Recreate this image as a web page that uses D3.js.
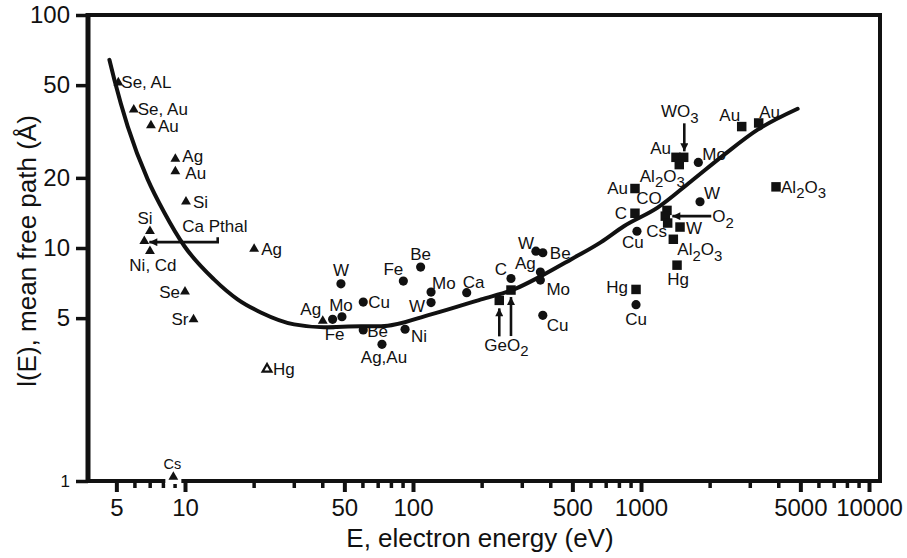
<!DOCTYPE html>
<html>
<head>
<meta charset="utf-8">
<script src="https://cdn.jsdelivr.net/npm/d3@7"></script>
<style>
  html, body { margin: 0; padding: 0; background: #fff; }
  svg { display: block; font-family: "Liberation Sans", Arial, Helvetica, sans-serif; }
  text { fill: #111; }
</style>
</head>
<body>
<svg id="chart" width="907" height="558"></svg>
<script>
// ---------- DATA ----------
// Universal curve (E in eV, mean free path in Å)
const curveE = [4.66, 4.90, 5.61, 6.86, 8.11, 9.93, 13.4, 17.0, 21.5, 30.1, 40.7, 59.2, 72.4, 120, 199, 277, 364, 493, 668, 841, 1183, 1655, 2311, 3250, 4864];
const curveL = [64.2, 52.7, 33.2, 19.7, 14.2, 10.2, 7.33, 6.02, 5.29, 4.70, 4.57, 4.61, 4.61, 5.19, 6.02, 6.64, 7.57, 8.93, 10.6, 12.4, 14.9, 19.3, 25.1, 32.2, 39.6];

// Filled triangles
const triangles = [
  { id: "t1", name: "Se, AL", E: 5.10, L: 51.3 },
  { id: "t2", name: "Se, Au", E: 5.96, L: 39.2 },
  { id: "t3", name: "Au", E: 7.09, L: 33.6 },
  { id: "t4", name: "Ag", E: 9.07, L: 24.1 },
  { id: "t5", name: "Au", E: 9.07, L: 21.3 },
  { id: "t6", name: "Si", E: 10.1, L: 15.8 },
  { id: "t7", name: "Si", E: 7.02, L: 11.8 },
  { id: "t8", name: "Ca Pthal", E: 6.63, L: 10.7 },
  { id: "t9", name: "Ni, Cd", E: 7.02, L: 9.69 },
  { id: "t10", name: "Ag", E: 20.1, L: 9.92 },
  { id: "t11", name: "Se", E: 10.0, L: 6.49 },
  { id: "t12", name: "Sr", E: 10.9, L: 4.94 },
  { id: "t13", name: "Cs", E: 8.89, L: 1.04 },
  { id: "t14", name: "Ag", E: 40.2, L: 4.86 }
];
// Open triangles
const openTriangles = [
  { id: "o1", name: "Hg", E: 22.9, L: 3.02 }
];
// Filled circles
const circles = [
  { id: "c1", name: "Fe", E: 44.4, L: 4.94 },
  { id: "c2", name: "Mo", E: 48.8, L: 5.07 },
  { id: "c3", name: "W", E: 48.3, L: 7.02 },
  { id: "c4", name: "Cu", E: 60.5, L: 5.86 },
  { id: "c5", name: "Be", E: 60.5, L: 4.45 },
  { id: "c6", name: "Ag,Au", E: 73.1, L: 3.86 },
  { id: "c7", name: "Ni", E: 92.3, L: 4.48 },
  { id: "c8", name: "Fe", E: 90.7, L: 7.21 },
  { id: "c9", name: "Be", E: 108, L: 8.28 },
  { id: "c10", name: "Mo", E: 120, L: 6.47 },
  { id: "c11", name: "W", E: 120, L: 5.83 },
  { id: "c12", name: "Ca", E: 172, L: 6.43 },
  { id: "c13", name: "C", E: 269, L: 7.40 },
  { id: "c14", name: "Ag", E: 362, L: 7.88 },
  { id: "c15", name: "Mo", E: 362, L: 7.28 },
  { id: "c16", name: "W", E: 346, L: 9.69 },
  { id: "c17", name: "Be", E: 371, L: 9.54 },
  { id: "c18", name: "Cu", E: 371, L: 5.14 },
  { id: "c19", name: "Mo", E: 1784, L: 23.3 },
  { id: "c20", name: "W", E: 1815, L: 15.8 },
  { id: "c21", name: "Cu", E: 960, L: 11.8 },
  { id: "c22", name: "Cu", E: 951, L: 5.71 }
];
// Filled squares
const squares = [
  { id: "s1", name: "GeO2", E: 239, L: 5.96 },
  { id: "s2", name: "GeO2", E: 269, L: 6.60 },
  { id: "s3", name: "Au", E: 1424, L: 24.5 },
  { id: "s4", name: "WO3", E: 1539, L: 24.5 },
  { id: "s5", name: "Al2O3", E: 1472, L: 22.8 },
  { id: "s6", name: "Au", E: 2765, L: 33.2 },
  { id: "s7", name: "Au", E: 3282, L: 34.4 },
  { id: "s8", name: "Au", E: 941, L: 18.0 },
  { id: "s9", name: "Al2O3", E: 3910, L: 18.3 },
  { id: "s10", name: "C", E: 941, L: 14.1 },
  { id: "s11", name: "CO", E: 1300, L: 14.5 },
  { id: "s12", name: "O2", E: 1278, L: 13.7 },
  { id: "s13", name: "Cs", E: 1309, L: 12.8 },
  { id: "s14", name: "W", E: 1483, L: 12.3 },
  { id: "s15", name: "Al2O3", E: 1386, L: 10.9 },
  { id: "s16", name: "Hg", E: 1439, L: 8.44 },
  { id: "s17", name: "Hg", E: 951, L: 6.64 }
];

// Axis ticks
const yTicks = [1, 5, 10, 20, 50, 100];
const xMajorTicks = [5, 10, 50, 100, 500, 1000, 5000, 10000];
const xMinorTicks = [6, 7, 8, 9, 20, 30, 40, 60, 70, 80, 90, 200, 300, 400, 600, 700, 800, 900, 2000, 3000, 4000, 6000, 7000, 8000, 9000];

const xTitle = "E, electron energy (eV)";
const yTitle = "l(E), mean free path (Å)";

// ---------- LAYOUT (label offsets in px, relative to marker) ----------
const labelLayout = {
  t1: [3, 0, "start"], t2: [4, -1, "start"], t3: [7, 1, "start"], t4: [7, -2.5, "start"],
  t5: [10, 2, "start"], t6: [7, 0, "start"], t7: [-5, -13, "middle"], t8: [38, -15, "start"],
  t9: [3, 14, "middle"], t10: [7, 0, "start"], t11: [-5, 0, "end"], t12: [-5, 0, "end"],
  t13: [-1, -13, "middle", 14.5], t14: [-12, -12, "middle"], o1: [6, 0, "start"],
  c1: [2, 15, "middle"], c2: [-1, -12, "middle"], c3: [0, -14, "middle"], c4: [5, 0, "start"],
  c5: [4, 1, "start"], c6: [2, 13, "middle"], c7: [6, 7, "start"], c8: [-10, -12, "middle"],
  c9: [0, -13, "middle"], c10: [1, -9.5, "start"], c11: [-6, 3, "end"], c12: [7, -11, "middle"],
  c13: [-10, -9, "middle"], c14: [-15, -9, "middle"], c15: [6, 9, "start"], c16: [-10, -8, "middle"],
  c17: [7, 0, "start"], c18: [4, 10, "start"], c19: [4, -8, "start"], c20: [4, -9, "start"],
  c21: [-4, 11, "middle"], c22: [0, 14, "middle"],
  s2: [-4.5, 55, "middle"], s3: [-5, -9, "end"], s4: [-4, -46, "middle"], s5: [-17, 11, "middle"],
  s6: [-12, -12, "middle"], s7: [11, -11, "middle"], s8: [-7, 0, "end"], s9: [5, 0, "start"],
  s10: [-8, 0, "end"], s11: [-18, -12, "middle"], s12: [47, 0, "start"], s13: [-11, 8, "middle"],
  s14: [6, 0.6, "start"], s15: [4, 10, "start"], s16: [1, 14, "middle"], s17: [-8, -2, "end"]
};
// Arrows: polyline offsets (px) relative to a marker, arrowhead at last point
const arrowLayout = {
  t8: [[73.4, -4], [73.4, 1], [5, 1]],
  s1: [[0, 36], [0, 8]],
  s2: [[0, 46], [0, 7]],
  s4: [[0.6, -34], [0.6, -6]],
  s12: [[46, 0], [7, 0]]
};

// ---------- CHART ----------
const svg = d3.select("#chart");
const pLeft = 88, pRight = 880, pTop = 15, pBottom = 481;
const x = d3.scaleLog().domain([10, 10000]).range([185, 869]);
const y = d3.scaleLog().domain([1, 100]).range([pBottom, pTop]);
const labelSize = 17;

const defs = svg.append("defs");
defs.append("marker").attr("id", "arrow").attr("viewBox", "0 0 10 10")
  .attr("refX", 10).attr("refY", 5).attr("markerWidth", 10).attr("markerHeight", 8)
  .attr("markerUnits", "userSpaceOnUse").attr("orient", "auto")
  .append("path").attr("d", "M0,0 L10,5 L0,10 Z").attr("fill", "#111");

// Y axis ticks & labels
const yAxis = d3.axisLeft(y).tickValues(yTicks).tickSize(12).tickPadding(6).tickFormat(d3.format("d"));
const gy = svg.append("g").attr("transform", `translate(${pLeft},0)`).call(yAxis);
gy.select(".domain").remove();
gy.selectAll(".tick line").attr("stroke", "#111").attr("stroke-width", 3.5);
gy.selectAll(".tick text").attr("fill", "#111").style("font-size", d => d === 1 ? "17px" : "24px")
  .style("font-family", "'Liberation Sans', Arial, sans-serif");

// X axis: major + minor ticks
const xAxisMajor = d3.axisBottom(x).tickValues(xMajorTicks).tickSize(11).tickPadding(7).tickFormat(d3.format("d"));
const gx = svg.append("g").attr("transform", `translate(0,${pBottom})`).call(xAxisMajor);
gx.select(".domain").remove();
gx.selectAll(".tick line").attr("stroke", "#111").attr("stroke-width", 4);
gx.selectAll(".tick text").attr("fill", "#111").style("font-size", "24px")
  .style("font-family", "'Liberation Sans', Arial, sans-serif");
const xAxisMinor = d3.axisBottom(x).tickValues(xMinorTicks).tickSize(7).tickFormat("");
const gxm = svg.append("g").attr("transform", `translate(0,${pBottom})`).call(xAxisMinor);
gxm.select(".domain").remove();
gxm.selectAll(".tick line").attr("stroke", "#111").attr("stroke-width", 3.5);

// Frame
const frame = svg.append("g").attr("stroke", "#111").attr("fill", "none");
frame.append("line").attr("x1", pLeft - 2).attr("x2", pRight + 2).attr("y1", pTop).attr("y2", pTop).attr("stroke-width", 4);
frame.append("line").attr("x1", pRight).attr("x2", pRight).attr("y1", pTop).attr("y2", pBottom).attr("stroke-width", 4);
frame.append("line").attr("x1", pLeft - 2).attr("x2", pRight + 2).attr("y1", pBottom).attr("y2", pBottom).attr("stroke-width", 4);
frame.append("line").attr("x1", pLeft).attr("x2", pLeft).attr("y1", pTop - 2).attr("y2", pBottom + 2).attr("stroke-width", 5);

// Titles
svg.append("text").attr("x", 480).attr("y", 547).attr("text-anchor", "middle")
  .style("font-size", "26px").text(xTitle);
svg.append("text").attr("transform", "translate(36,251) rotate(-90)").attr("text-anchor", "middle")
  .style("font-size", "26px").text(yTitle);

// Curve
const line = d3.line().x(d => x(d[0])).y(d => y(d[1])).curve(d3.curveMonotoneX);
svg.append("path").datum(curveE.map((e, i) => [e, curveL[i]]))
  .attr("d", line).attr("fill", "none").attr("stroke", "#111").attr("stroke-width", 4).attr("stroke-linecap", "round");

// Markers
const gm = svg.append("g");
const triSym = d3.symbol(d3.symbolTriangle, 42);
const sqSym = d3.symbol(d3.symbolSquare, 90);
const ciSym = d3.symbol(d3.symbolCircle, 66);

// white gap where a marker sits on the x axis line
triangles.filter(d => y(d.L) > pBottom - 8).forEach(d => {
  gm.append("rect").attr("x", x(d.E) - 8).attr("y", pBottom - 3).attr("width", 16).attr("height", 6).attr("fill", "#fff");
});

gm.selectAll(".tri").data(triangles).join("path").attr("class", "tri")
  .attr("transform", d => `translate(${x(d.E)},${y(d.L)})`).attr("d", triSym).attr("fill", "#111");
gm.selectAll(".otri").data(openTriangles).join("path").attr("class", "otri")
  .attr("transform", d => `translate(${x(d.E)},${y(d.L)})`).attr("d", d3.symbol(d3.symbolTriangle, 34))
  .attr("fill", "#fff").attr("stroke", "#111").attr("stroke-width", 2.2);
gm.selectAll(".ci").data(circles).join("path").attr("class", "ci")
  .attr("transform", d => `translate(${x(d.E)},${y(d.L)})`).attr("d", ciSym).attr("fill", "#111");
gm.selectAll(".sq").data(squares).join("path").attr("class", "sq")
  .attr("transform", d => `translate(${x(d.E)},${y(d.L)})`).attr("d", sqSym).attr("fill", "#111");

// Labels
const gl = svg.append("g");
function addLabel(text, px, py, anchor, size) {
  const t = gl.append("text").attr("x", px).attr("y", py + size * 0.35)
    .attr("text-anchor", anchor).style("font-size", size + "px");
  const parts = text.match(/\d+|\D+/g);
  let shifted = false;
  const sh = size * 0.32;
  parts.forEach(p => {
    const ts = t.append("tspan").text(p);
    if (/^\d+$/.test(p)) { ts.attr("dy", sh).style("font-size", (size * 0.88) + "px"); shifted = true; }
    else if (shifted) { ts.attr("dy", -sh); shifted = false; }
  });
}
const allPts = [...triangles, ...openTriangles, ...circles, ...squares];
allPts.forEach(d => {
  const lay = labelLayout[d.id];
  if (!lay) return;
  addLabel(d.name, x(d.E) + lay[0], y(d.L) + lay[1], lay[2], lay[3] || labelSize);
});

// Arrows
const ga = svg.append("g");
allPts.forEach(d => {
  const a = arrowLayout[d.id];
  if (!a) return;
  const cx = x(d.E), cy = y(d.L);
  ga.append("path").attr("d", d3.line()(a.map(p => [cx + p[0], cy + p[1]])))
    .attr("fill", "none").attr("stroke", "#111").attr("stroke-width", 2.6).attr("marker-end", "url(#arrow)");
});
</script>
</body>
</html>
